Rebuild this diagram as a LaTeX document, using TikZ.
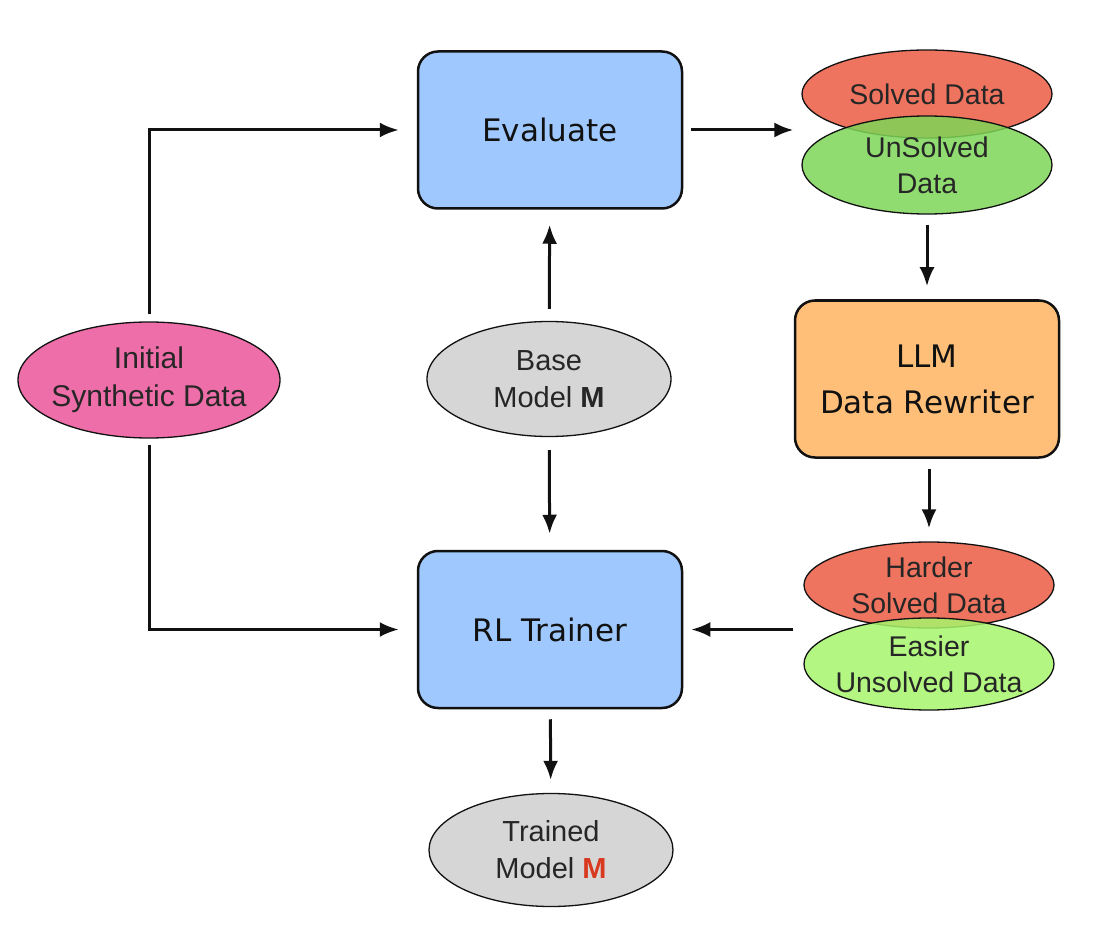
\documentclass[tikz,border=0pt]{standalone}
\usepackage{fontspec}
\setmainfont{Liberation Sans}
\newfontfamily\boxfont{DejaVu Sans}
\usetikzlibrary{arrows.meta,positioning,shapes.geometric,calc}
\definecolor{ink}{HTML}{111111}
\definecolor{txt}{HTML}{262626}
\definecolor{skyfill}{HTML}{9FC9FE}
\definecolor{orangefill}{HTML}{FFBF78}
\definecolor{pinkfill}{HTML}{EE6EAA}
\definecolor{greyfill}{HTML}{D6D6D6}
\definecolor{redfill}{HTML}{EF745F}
\definecolor{greenfill}{HTML}{7ED657}
\definecolor{limefill}{HTML}{A6F56B}
\definecolor{mred}{HTML}{D9391F}
\tikzset{
  box/.style={draw=ink, rounded corners=20pt, line width=2.5pt, align=center, minimum width=264pt, minimum height=157pt, font=\boxfont\fontsize{31}{46}\selectfont, text=ink},
  bluebox/.style={box, fill=skyfill},
  orangebox/.style={box, fill=orangefill},
  blob/.style={ellipse, draw=ink, line width=1.3pt, align=center, inner sep=-12pt, font=\fontsize{28.5}{36}\selectfont, text=txt},
  redblob/.style={blob, fill=redfill, minimum width=250pt, minimum height=88pt},
  greenblob/.style={blob, fill=greenfill, fill opacity=0.85, text opacity=1, minimum width=250pt, minimum height=98pt},
  greyblob/.style={blob, fill=greyfill, minimum width=244pt, minimum height=115pt, font=\fontsize{29}{37}\selectfont},
  arrow/.style={-{Latex[length=19pt,width=15pt]}, line width=3pt, draw=ink, shorten <=10pt, shorten >=13pt}
}
\begin{document}
\begin{tikzpicture}[x=1pt,y=-1pt]
\useasboundingbox (0,0) rectangle (1109,928);
\node[bluebox] (eval) at (550,130) {Evaluate};
\node[bluebox, below=340pt of eval] (rl) {RL Trainer};
\node[orangebox] (llm) at (927,379) {LLM\\Data Rewriter};
\node[greyblob] (base) at (549,379) {Base\\Model \textbf{M}};
\node[greyblob, minimum height=113pt] (trained) at (551,850) {Trained\\Model \textcolor{mred}{\textbf{M}}};
\node[blob, fill=pinkfill, minimum width=262pt, minimum height=116pt, font=\fontsize{30}{38}\selectfont] (init) at (149,380) {Initial\\Synthetic Data};
% evaluation split
\node[redblob] (solved) at (927,94) {Solved Data};
\node[greenblob] (unsolved) at (927,165) {UnSolved\\Data};
% rewritten split
\node[redblob, minimum height=86pt] (harder) at (929,585) {Harder\\Solved Data};
\node[greenblob, fill=limefill, minimum height=92pt] (easier) at (929,664) {Easier\\Unsolved Data};
\draw[arrow, shorten <=7pt, shorten >=18pt] (init.north) |- (eval.west);
\draw[arrow, shorten <=6pt, shorten >=18pt] (init.south) |- (rl.west);
\draw[arrow, shorten <=8pt, shorten >=8pt] (eval.east) -- (eval.east -| solved.west);
\draw[arrow, shorten <=12pt, shorten >=15pt] (base) -- (eval);
\draw[arrow, shorten <=13pt, shorten >=16pt] (base) -- (rl);
\draw[arrow] (unsolved.south) -- (unsolved.south |- llm.north);
\draw[arrow] (harder.north |- llm.south) -- (harder.north);
\draw[arrow, shorten <=10pt, shorten >=8pt] (rl.east -| harder.west) -- (rl.east);
\draw[arrow] (rl) -- (trained);
\end{tikzpicture}
\end{document}
